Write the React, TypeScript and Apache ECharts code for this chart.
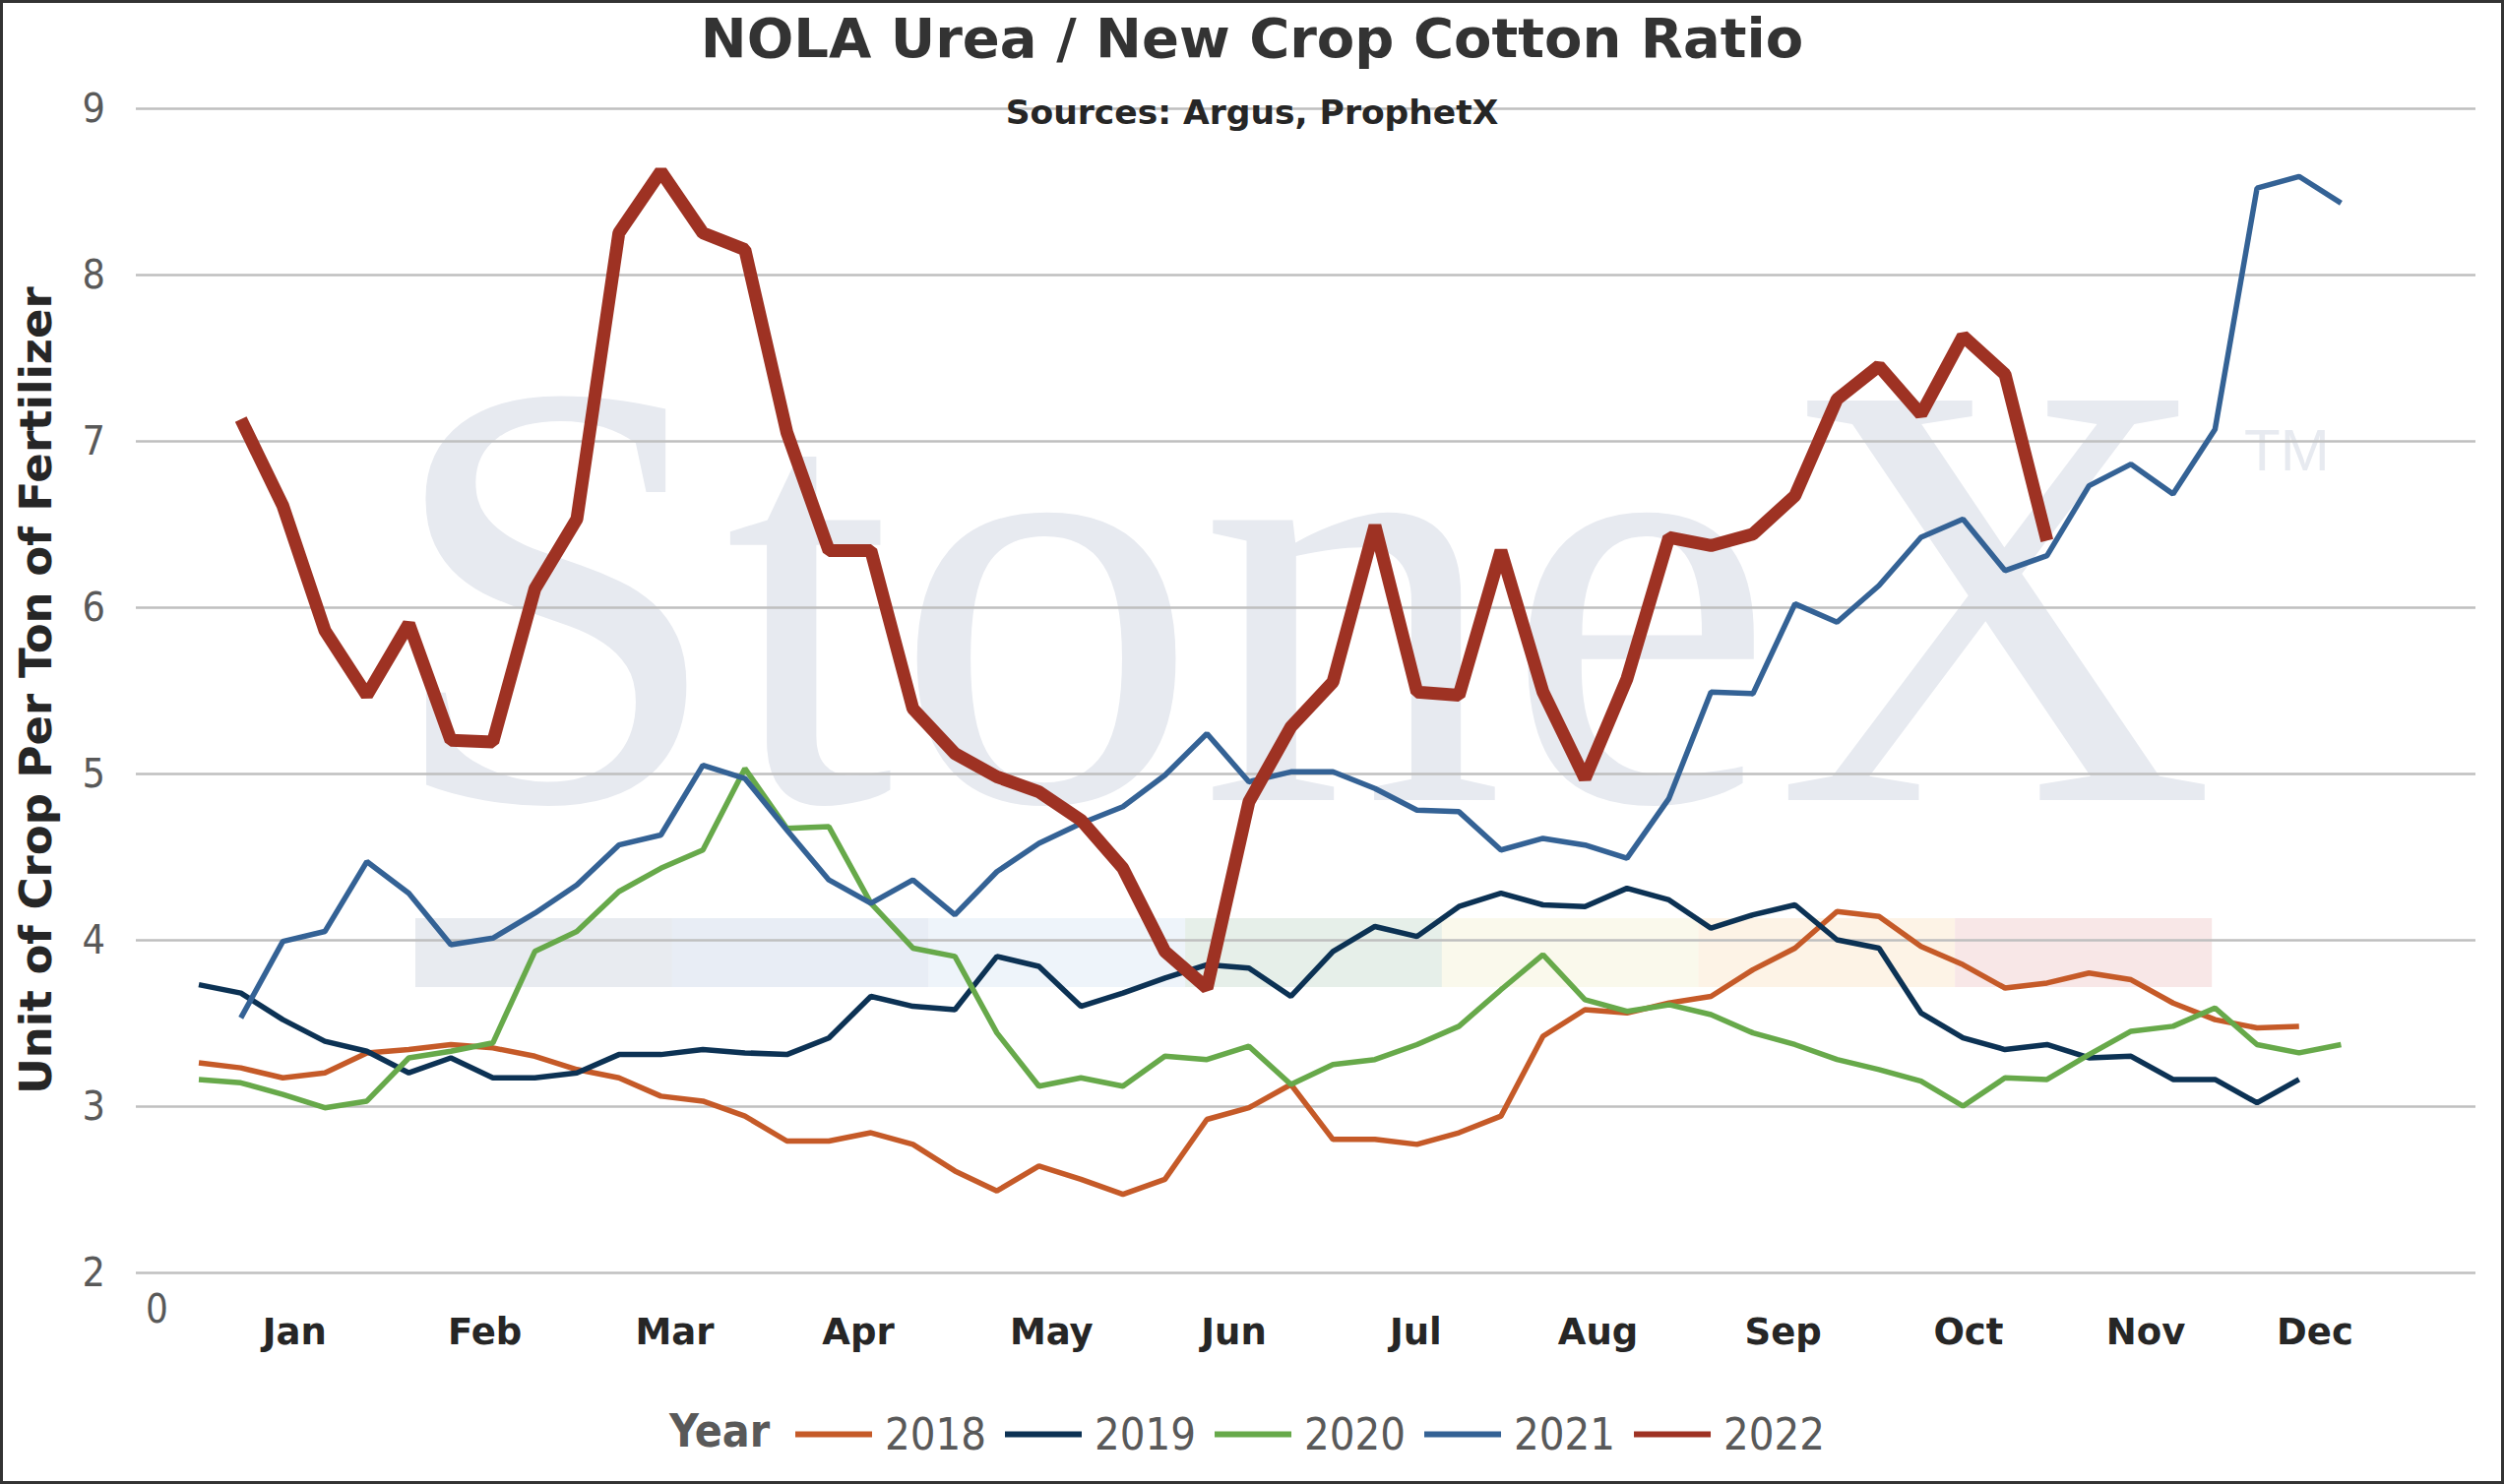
import { useEffect, useRef } from "react";
import * as echarts from "echarts";

const years = ["2018", "2019", "2020", "2021", "2022"];
const yearColors = ["#C55A28", "#0C3254", "#67A94A", "#346295", "#9E3223"];
const lineWidths = [5.5, 5.5, 5.5, 5.5, 13];
const firstWeek = [1, 1, 1, 2, 2];

const y2018 = [
  3.26, 3.23, 3.17, 3.2, 3.32, 3.34, 3.37, 3.35, 3.3, 3.22, 3.17, 3.06, 3.03, 2.94, 2.79, 2.79, 2.84,
  2.77, 2.61, 2.49, 2.64, 2.56, 2.47, 2.56, 2.92, 2.99, 3.13, 2.8, 2.8, 2.77, 2.84, 2.94, 3.42, 3.58,
  3.56, 3.62, 3.66, 3.82, 3.95, 4.17, 4.14, 3.96, 3.85, 3.71, 3.74, 3.8, 3.76, 3.62, 3.52, 3.47, 3.48
];
const y2019 = [
  3.73, 3.68, 3.52, 3.39, 3.33, 3.2, 3.29, 3.17, 3.17, 3.2, 3.31, 3.31, 3.34, 3.32, 3.31, 3.41, 3.66,
  3.6, 3.58, 3.9, 3.84, 3.6, 3.68, 3.77, 3.85, 3.83, 3.66, 3.93, 4.08, 4.02, 4.2, 4.28, 4.21, 4.2,
  4.31, 4.24, 4.07, 4.15, 4.21, 4.0, 3.95, 3.56, 3.41, 3.34, 3.37, 3.29, 3.3, 3.16, 3.16, 3.02, 3.16
];
const y2020 = [
  3.16, 3.14, 3.07, 2.99, 3.03, 3.29, 3.33, 3.38, 3.93, 4.05, 4.29, 4.43, 4.54, 5.03, 4.67, 4.68, 4.22,
  3.95, 3.9, 3.44, 3.12, 3.17, 3.12, 3.3, 3.28, 3.36, 3.13, 3.25, 3.28, 3.37, 3.48, 3.7, 3.91, 3.64,
  3.57, 3.61, 3.55, 3.44, 3.37, 3.28, 3.22, 3.15, 3.0, 3.17, 3.16, 3.31, 3.45, 3.48, 3.59, 3.37, 3.32, 3.37
];
const y2021 = [
  3.53, 3.99, 4.05, 4.47, 4.28, 3.97, 4.01, 4.16, 4.33, 4.57, 4.63, 5.05, 4.97, 4.66, 4.36, 4.22, 4.36,
  4.15, 4.41, 4.58, 4.7, 4.8, 4.99, 5.24, 4.95, 5.01, 5.01, 4.91, 4.78, 4.77, 4.54, 4.61, 4.57, 4.49,
  4.85, 5.49, 5.48, 6.02, 5.91, 6.13, 6.42, 6.53, 6.22, 6.31, 6.73, 6.86, 6.68, 7.07, 8.52, 8.59, 8.43
];
const y2022 = [
  7.13, 6.61, 5.86, 5.47, 5.9, 5.2, 5.19, 6.11, 6.53, 8.25, 8.62, 8.25, 8.15, 7.05, 6.34, 6.34, 5.39,
  5.12, 4.98, 4.89, 4.72, 4.43, 3.93, 3.71, 4.83, 5.28, 5.55, 6.49, 5.49, 5.47, 6.34, 5.49, 4.97, 5.57,
  6.42, 6.37, 6.44, 6.67, 7.25, 7.45, 7.16, 7.63, 7.4, 6.4
];
const yearValues = [y2018, y2019, y2020, y2021, y2022];

const monthNames = ["Jan", "Feb", "Mar", "Apr", "May", "Jun", "Jul", "Aug", "Sep", "Oct", "Nov", "Dec"];
const monthWeeks = [3.28, 7.81, 12.33, 16.7, 21.3, 25.64, 29.97, 34.31, 38.72, 43.13, 47.35, 51.38];

const bandColors = ["#E8EBF0", "#E8EDF5", "#EEF4FA", "#E6EFE9", "#FAF9EC", "#FDF3E6", "#F8E7E7"];

const condensed = "'DejaVu Sans Condensed', 'DejaVu Sans', sans-serif";
const sans = "'DejaVu Sans', Verdana, sans-serif";

export default function App() {
  const ref = useRef<HTMLDivElement | null>(null);

  useEffect(() => {
    if (!ref.current) return;
    const chart = echarts.init(ref.current, undefined, { renderer: "svg" });

    const xMin = -0.5;
    const xMax = 55.2;

    const band = bandColors.map((c, i) => ({
      type: "rect",
      z: -10,
      silent: true,
      shape: { x: 422 + i * 260.7, y: 933, width: 261, height: 70 },
      style: { fill: c }
    }));

    const option: echarts.EChartsOption = {
      animation: false,
      backgroundColor: "#ffffff",
      title: [
        {
          text: "NOLA Urea / New Crop Cotton Ratio",
          left: "center",
          top: 5,
          textStyle: { fontFamily: sans, fontSize: 56, fontWeight: "bold", color: "#333333" }
        },
        {
          text: "Sources: Argus, ProphetX",
          left: "center",
          top: 91,
          textStyle: { fontFamily: sans, fontSize: 34.5, fontWeight: "bold", color: "#262626" }
        }
      ],
      grid: { left: 138, right: 29, top: 110, bottom: 215, containLabel: false },
      legend: {
        data: years,
        left: 803,
        top: 1430,
        icon: "rect",
        itemWidth: 78,
        itemHeight: 6,
        itemGap: 19,
        textStyle: { fontFamily: condensed, fontSize: 45, color: "#595959", padding: [0, 0, 0, 8] }
      },
      xAxis: [
        {
          type: "value",
          min: xMin,
          max: xMax,
          axisLine: { show: false },
          axisTick: { show: false },
          splitLine: { show: false },
          axisLabel: {
            customValues: monthWeeks,
            margin: 42,
            fontFamily: sans,
            fontSize: 37,
            fontWeight: "bold",
            color: "#262626",
            formatter: (v: number) => {
              const i = monthWeeks.findIndex((m) => Math.abs(m - v) < 0.01);
              return i >= 0 ? monthNames[i] : "";
            }
          }
        },
        {
          type: "value",
          min: xMin,
          max: xMax,
          position: "bottom",
          axisLine: { show: false },
          axisTick: { show: false },
          splitLine: { show: false },
          axisLabel: {
            customValues: [0],
            margin: 17,
            fontFamily: condensed,
            fontSize: 40,
            color: "#595959",
            formatter: () => "0"
          }
        }
      ],
      yAxis: {
        type: "value",
        min: 2,
        max: 9,
        interval: 1,
        name: "Unit of Crop Per Ton of Fertilizer",
        nameLocation: "middle",
        nameRotate: 90,
        nameGap: 79,
        nameTextStyle: { fontFamily: sans, fontSize: 45, fontWeight: "bold", color: "#262626" },
        axisLine: { show: false },
        axisTick: { show: false },
        axisLabel: { margin: 31, fontFamily: condensed, fontSize: 41, color: "#595959" },
        splitLine: { lineStyle: { color: "#BFBFBF", width: 2.5 } }
      },
      graphic: [
        {
          type: "text",
          z: -10,
          silent: true,
          x: 391,
          y: 604,
          style: {
            text: "StoneX",
            fontFamily: "'Liberation Serif', 'DejaVu Serif', serif",
            fontSize: 620,
            fill: "#E7EAF0",
            verticalAlign: "middle"
          }
        },
        {
          type: "text",
          z: -10,
          silent: true,
          x: 2280,
          y: 457,
          style: {
            text: "TM",
            fontFamily: "'Liberation Sans', sans-serif",
            fontSize: 60,
            fill: "#E7EAF0",
            verticalAlign: "middle"
          }
        },
        ...band,
        {
          type: "text",
          x: 680,
          y: 1454,
          style: {
            text: "Year",
            fontFamily: condensed,
            fontSize: 46,
            fontWeight: "bold",
            fill: "#595959",
            verticalAlign: "middle"
          }
        },
        {
          type: "rect",
          silent: true,
          z: 100,
          shape: { x: 1.5, y: 1.5, width: 2541, height: 1505 },
          style: { fill: "none", stroke: "#333333", lineWidth: 3 }
        }
      ],
      series: years.map((name, k) => ({
        type: "line",
        name,
        data: yearValues[k].map((v, i) => [i + firstWeek[k], v]),
        showSymbol: false,
        symbol: "none",
        color: yearColors[k],
        lineStyle: { color: yearColors[k], width: lineWidths[k] }
      }))
    };

    chart.setOption(option);
    return () => {
      chart.dispose();
    };
  }, []);

  return (
    <div
      ref={ref}
      style={{ position: "absolute", left: 0, top: 0, width: 2544, height: 1508 }}
    />
  );
}
